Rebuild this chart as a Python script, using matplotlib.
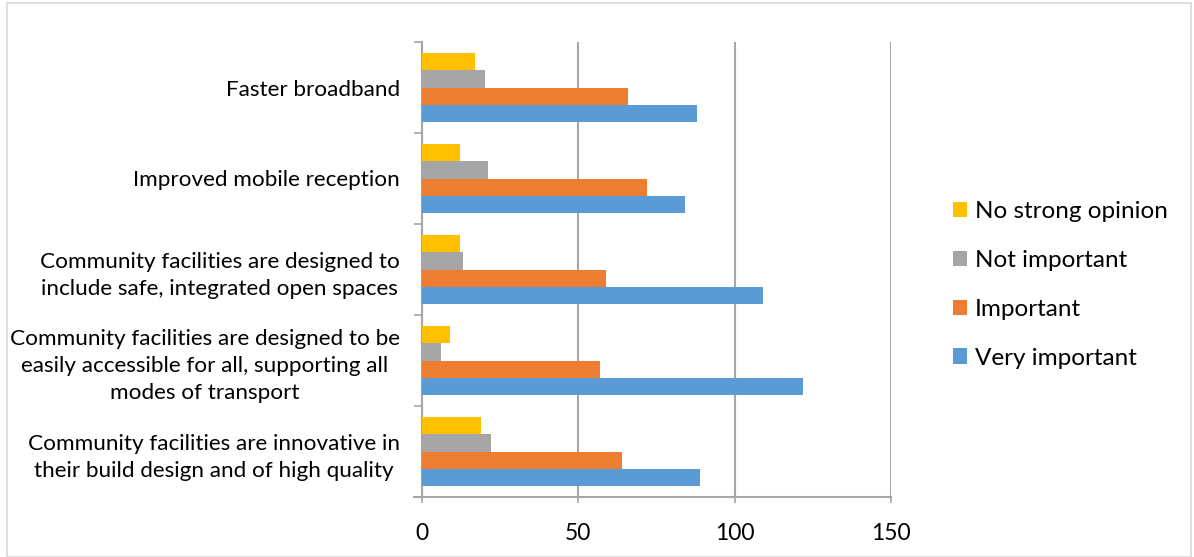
import matplotlib
matplotlib.use("Agg")
import matplotlib.pyplot as plt
from matplotlib.patches import Rectangle
import numpy as np

plt.rcParams['font.family'] = ['Lato', 'DejaVu Sans']

# Categories listed bottom-to-top (as drawn on the y axis)
categories = [
    "Community facilities are innovative in\ntheir build design and of high quality",
    "Community facilities are designed to be\neasily accessible for all, supporting all\nmodes of transport",
    "Community facilities are designed to\ninclude safe, integrated open spaces",
    "Improved mobile reception",
    "Faster broadband",
]
very_important = [89, 122, 109, 84, 88]
important = [64, 57, 59, 72, 66]
not_important = [22, 6, 13, 21, 20]
no_strong_opinion = [19, 9, 12, 12, 17]

series_names = ["Very important", "Important", "Not important", "No strong opinion"]
series_values = [very_important, important, not_important, no_strong_opinion]
colors = ["#5B9BD5", "#ED7D31", "#A5A5A5", "#FFC000"]

x_ticks = [0, 50, 100, 150]

W, H = 1194, 557
fig = plt.figure(figsize=(W / 100, H / 100), dpi=100)
fig.patches.append(Rectangle((7 / W, 0), (1191 - 7) / W, 1 - 3 / H,
                             transform=fig.transFigure, fill=False,
                             edgecolor="#D9D9D9", linewidth=1.2))

ax = fig.add_axes([422 / W, 1 - 497 / H, (891 - 422) / W, (497 - 42) / H])

y = np.arange(len(categories))
h = 0.187
offsets = [-1.5 * h, -0.5 * h, 0.5 * h, 1.5 * h]
handles = []
for name, vals, col, off in zip(series_names, series_values, colors, offsets):
    b = ax.barh(y + off, vals, height=h, color=col, label=name, zorder=3)
    handles.append(b)

ax.set_xlim(0, 150)
ax.set_ylim(-0.5, len(categories) - 0.5)
ax.set_xticks(x_ticks)
ax.set_xticklabels([str(t) for t in x_ticks], fontsize=16.5)
ax.tick_params(axis='x', length=4, width=1.2, color="#A6A6A6", pad=15)
ax.grid(axis='x', color="#A6A6A6", linewidth=1.5, zorder=0)

ax.set_yticks(y)
for lab in ax.set_yticklabels(categories, fontsize=16.2):
    lab.set_multialignment('center')
    lab.set_linespacing(1.45)
ax.tick_params(axis='y', which='major', length=0, pad=16)
ax.set_yticks(np.arange(-0.5, len(categories)), minor=True)
ax.tick_params(axis='y', which='minor', length=6, width=1.2, color="#A6A6A6")

for s in ['top', 'right']:
    ax.spines[s].set_visible(False)
ax.spines['left'].set_color("#A6A6A6")
ax.spines['left'].set_linewidth(1.5)
ax.spines['bottom'].set_color("#A6A6A6")
ax.spines['bottom'].set_linewidth(1.5)
ax.spines['bottom'].set_bounds(-2.5, 150)

leg = fig.legend(handles[::-1], series_names[::-1], loc='center left',
                 bbox_to_anchor=(931 / W, 1 - 285 / H), frameon=False,
                 fontsize=17.5, handlelength=0.58, handleheight=0.58,
                 handletextpad=0.33, labelspacing=1.14)

fig.savefig("out.png", dpi=100)
